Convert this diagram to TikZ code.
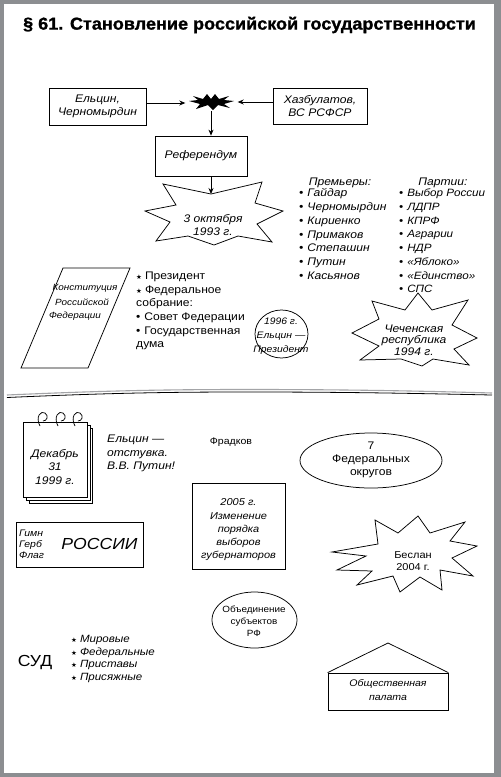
\documentclass[tikz,border=0pt]{standalone}
\usepackage{fontspec}
\setmainfont{Liberation Sans}[FakeStretch=1.1]
\newfontfamily\symfont{DejaVu Sans}
\newfontfamily\titlefont{Liberation Sans Bold}[FakeBold=1.2, FakeStretch=1.05]
\usetikzlibrary{arrows.meta,shapes.geometric}
\definecolor{framegray}{RGB}{140,142,145}
\newcommand\fsz{\fontsize{11}{13.7}\selectfont}
\newcommand\starb{{\symfont\fontsize{6.5}{6.5}\selectfont ★}\hspace{3pt}}
\newcommand\dotb{\textbullet\hspace{4pt}}
\begin{document}
\begin{tikzpicture}[x=1pt,y=-1pt,
  shp/.style={line width=0.75pt},
  box/.style={draw, line width=0.75pt, inner sep=0, align=center, font=\fontsize{11}{12.5}\selectfont\itshape},
  txt/.style={inner sep=0, align=center, font=\fsz},
  itx/.style={inner sep=0, align=center, font=\fsz\itshape},
  lst/.style={inner sep=0, align=left, anchor=west, font=\fsz},
  arr/.style={line width=0.75pt, -{Stealth[length=6pt,width=5pt]}},
  ell/.style={draw, ellipse, line width=0.75pt, inner sep=0},
]
\useasboundingbox (0,0) rectangle (501,777);
\fill[framegray] (0,0) rectangle (501,777);
\fill[white] (4,4) rectangle (494,773);

% title
\node[inner sep=0, font=\titlefont\fontsize{17.2}{20}\selectfont] (title) at (249.5,25) {§ 61. Становление российской государственности};

% top boxes
\node[box, minimum width=97pt, minimum height=37pt] (b1) at (97.5,106.5) {Ельцин,\\Черномырдин};
\node[box, minimum width=94pt, minimum height=36pt] (b2) at (320,106) {Хазбулатов,\\ВС РСФСР};
\node[box, minimum width=92pt, minimum height=40pt] (ref) at (201,156) {Референдум};

% small black explosion
\node[inner sep=0, minimum width=45pt, minimum height=16pt] (ex) at (211,103) {};
\fill (189,101) -- (198,100) -- (193,96) -- (203,99) -- (207,94) -- (211,99) -- (215,94) -- (219,99) -- (229,96) -- (224,100) -- (234,101) -- (224,104) -- (230,108) -- (218,105) -- (213,110) -- (208,105) -- (196,109) -- (200,104) -- cycle;

\draw[arr, shorten >=3pt] ([yshift=3.5pt]b1.east) -- ([yshift=3.5pt]b1.east -| ex.west);
\draw[arr, shorten >=4pt] ([yshift=4pt]b2.west) -- ([yshift=4pt]b2.west -| ex.east);
\draw[arr] (ex.south) -- (ex.south |- ref.north);
\coordinate (octtop) at (211,194);
\draw[arr] (ex.south |- ref.south) -- (octtop);

% 3 October star
\draw[shp, fill=white] (145,211) -- (176,205) -- (163,184) -- (211,194) -- (262,182) -- (255,203) -- (283,211) -- (257,224) -- (272,242) -- (238,236) -- (214,245) -- (188,236) -- (156,241) -- (170,222) -- cycle;
\node[itx, font=\fontsize{11}{13}\selectfont\itshape] (oct) at (213,225) {3 октября\\1993 г.};

% premiers
\node[itx] (ph) at (340,183) {Премьеры:};
\node[lst, font=\fsz\itshape] (pl) at (299,234) {\dotb Гайдар\\\dotb Черномырдин\\\dotb Кириенко\\\dotb Примаков\\\dotb Степашин\\\dotb Путин\\\dotb Касьянов};
% parties
\node[itx] (pth) at (443,183) {Партии:};
\node[lst, font=\fontsize{10.6}{13.7}\selectfont\itshape] (ptl) at (399,241) {\dotb Выбор России\\\dotb ЛДПР\\\dotb КПРФ\\\dotb Аграрии\\\dotb НДР\\\dotb «Яблоко»\\\dotb «Единство»\\\dotb СПС};

% constitution
\draw[shp] (63,268) -- (130,268) -- (88,368) -- (21,368) -- cycle;
\node[itx, font=\fontsize{9}{10}\selectfont\itshape] (k1) at (85,288) {Конституция};
\node[itx, font=\fontsize{9}{10}\selectfont\itshape] (k2) at (82,302) {Российской};
\node[itx, font=\fontsize{9}{10}\selectfont\itshape] (k3) at (75,316) {Федерации};
\node[lst, font=\fontsize{11}{13.6}\selectfont] (kl) at (136,311) {\starb Президент\\\starb Федеральное\\собрание:\\\dotb Совет Федерации\\\dotb Государственная\\дума};

% 1996 ellipse
\node[ell, minimum width=53pt, minimum height=48pt] (e96) at (281.5,334) {};
\node[itx, font=\fontsize{9.4}{14}\selectfont\itshape] (t96) at (281,336) {1996 г.\\Ельцин —\\Президент};

% Chechnya star
\draw[shp, fill=white] (352,333) -- (379,319) -- (372,301) -- (405,310) -- (418,293) -- (432,310) -- (468,300) -- (452,325) -- (477,338) -- (454,349) -- (469,365) -- (433,359) -- (422,366) -- (401,359) -- (360,360) -- (379,346) -- cycle;
\node[itx, font=\fontsize{11}{11.5}\selectfont\itshape] (che) at (414,340) {Чеченская\\республика\\1994 г.};

% divider
\draw[framegray!80, line width=1.1pt] (7,395) .. controls (120,390) and (180,389.5) .. (250,389.5) .. controls (350,389.5) and (420,391) .. (492,393);
\draw[line width=0.8pt] (7,397.5) .. controls (120,392.5) and (180,392) .. (250,392) .. controls (350,392) and (420,393.5) .. (492,395);

% calendar
\draw[shp, fill=white] (29,428) rectangle (92,503);
\draw[shp, fill=white] (26,425) rectangle (90,500);
\draw[shp, fill=white] (23,422) rectangle (87,497);
\foreach \x in {42,60,77} {
  \draw[shp] (\x-2,426) .. controls (\x-7,417) and (\x-1,410) .. (\x+3,413) .. controls (\x+7,416) and (\x+5,421) .. (\x+1,421);
}
\node[itx] (cal) at (55,467) {Декабрь\\31\\1999 г.};
\node[itx, align=left, anchor=west, font=\fontsize{11}{13.5}\selectfont\itshape] (yel) at (107,453.5) {Ельцин —\\отстувка.\\В.В. Путин!};

\node[txt, font=\fontsize{9.6}{11}\selectfont] (fr) at (231,442) {Фрадков};

% 7 federal districts
\node[ell, minimum width=142pt, minimum height=55pt] (e7) at (371,460.5) {};
\node[txt, font=\fontsize{11}{13}\selectfont] (t7) at (371,460) {7\\Федеральных\\округов};

% 2005 box
\node[box, minimum width=93pt, minimum height=86pt] (gov) at (238.5,526) {};
\node[itx, font=\fontsize{10}{13.25}\selectfont\itshape] (tgov) at (238.5,530) {2005 г.\\Изменение\\порядка\\выборов\\губернаторов};

% symbols box
\node[box, minimum width=127pt, minimum height=45pt] (gim) at (79.5,544.5) {};
\node[itx, align=left, anchor=west, font=\fontsize{9.5}{11}\selectfont\itshape] (ggf) at (19,544.5) {Гимн\\Герб\\Флаг};
\node[itx, font=\fontsize{16}{16}\selectfont\itshape] (ros) at (99.5,544) {РОССИИ};

% Beslan star
\draw[shp, fill=white] (332,552) -- (366,556) -- (337,570) -- (372,571) -- (357,585) -- (393,576) -- (400,592) -- (420,577) -- (442,590) -- (440,570) -- (473,576) -- (452,558) -- (477,546) -- (450,541) -- (465,522) -- (430,533) -- (418,516) -- (398,533) -- (375,520) -- (378,544) -- cycle;
\node[txt, font=\fontsize{10}{12}\selectfont] (bes) at (413,561) {Беслан\\2004 г.};

% union ellipse
\node[ell, minimum width=85pt, minimum height=56pt] (eo) at (254.5,620) {};
\node[txt, font=\fontsize{9}{12}\selectfont] (teo) at (254,621) {Объединение\\субъектов\\РФ};

% court
\node[txt, font=\fontsize{16}{16}\selectfont] (sud) at (35,662) {СУД};
\node[lst, font=\fontsize{10.5}{12.7}\selectfont\itshape] (sl) at (71,659) {\starb Мировые\\\starb Федеральные\\\starb Приставы\\\starb Присяжные};

% public chamber
\node[box, minimum width=120pt, minimum height=37pt] (pal) at (388,691.5) {};
\coordinate (roof) at (388,643);
\draw[shp] (pal.north west) -- (roof) -- (pal.north east);
\node[itx, font=\fontsize{9.6}{14}\selectfont\itshape] (tpal) at (388,690.5) {Общественная\\палата};
\end{tikzpicture}
\end{document}
